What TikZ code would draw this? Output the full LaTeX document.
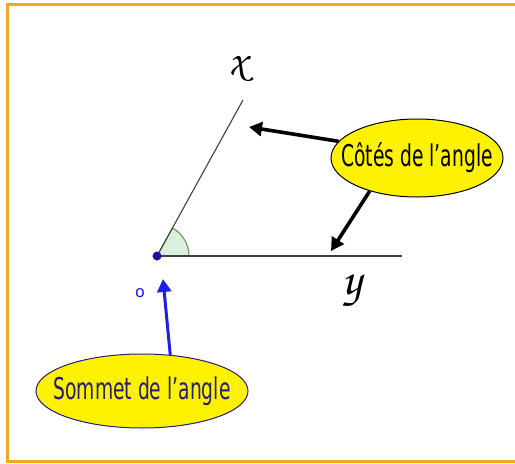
\documentclass[tikz,border=0pt]{standalone}
\usepackage[T1]{fontenc}
\usepackage{fontspec}
\setsansfont{DejaVu Sans}
\usetikzlibrary{shapes.geometric,arrows.meta}
\definecolor{cadre}{RGB}{245,166,35}
\definecolor{vertangle}{RGB}{220,238,220}
\definecolor{traitangle}{RGB}{90,140,95}
\definecolor{bleusommet}{RGB}{30,30,230}
\definecolor{encre}{RGB}{35,30,120}
\newcommand{\etiq}[1]{\makebox[0pt]{\scalebox{0.78}[1.25]{#1}}}
\newcommand{\ronde}[2]{{\usefont{T1}{pzc}{m}{it}\fontsize{#1}{#1}\selectfont #2}}
\begin{document}
\begin{tikzpicture}[x=1pt,y=-1pt,
  demidroite/.style={line width=1.1pt,draw=black!75},
  bulle/.style={ellipse,fill=yellow,line width=1pt,inner sep=0pt,
    font=\sffamily\fontsize{24}{24}\selectfont},
  fleche/.style={line width=3.6pt,-{Triangle[length=13pt,width=14pt]}}]
\useasboundingbox (0,0) rectangle (515,464);
\draw[cadre,line width=3pt] (7,4) rectangle (530,461);
% l'angle
\coordinate (O) at (157,256);
\coordinate (X) at (243,100);
\coordinate (Y) at (402,256);
\filldraw[fill=vertangle,draw=traitangle,line width=1pt] (O) -- ++(32,0) arc[start angle=0,end angle=-61,radius=32] -- cycle;
\draw[demidroite] (O)--(X);
\draw[demidroite] (O)--(Y);
\fill[bleusommet!70!black] (O) circle (4.5);
\node (lx) at (238,70) {\ronde{44}{x}};
\node (ly) at (352,292) {\ronde{48}{y}};
\node[text=bleusommet,font=\sffamily\fontsize{16}{16}\selectfont] (lo) at (140,293) {o};
% les bulles
\node[bulle,draw=black,minimum width=172pt,minimum height=78pt] (cotes) at (417,158) {\etiq{Côtés de l’angle}};
\node[bulle,draw=encre,text=encre,minimum width=212pt,minimum height=74pt] (sommet) at (142,391) {\etiq{Sommet de l’angle}};
\coordinate (c1) at (249,127);
\coordinate (c2) at (331,251);
\coordinate (s1) at (163,279);
\draw[fleche] (cotes.168)--(c1);
\draw[fleche] (cotes.215)--(c2);
\draw[fleche,bleusommet,line width=3pt] (sommet.52)--(s1);
\end{tikzpicture}
\end{document}
